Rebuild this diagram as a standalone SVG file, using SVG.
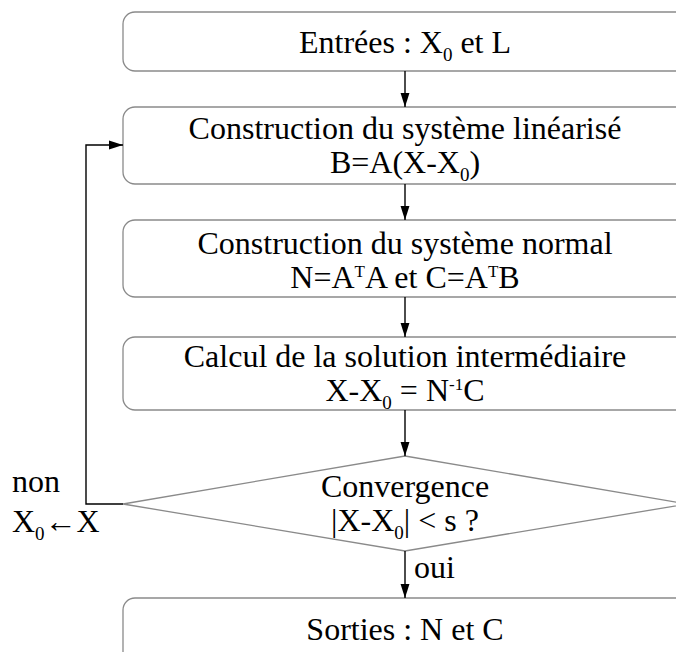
<svg xmlns="http://www.w3.org/2000/svg" width="676" height="652" viewBox="0 0 676 652">
<defs>
<marker id="ah" markerWidth="14" markerHeight="22" refX="22" refY="7" viewBox="0 0 22 14" markerUnits="userSpaceOnUse" orient="auto">
<path d="M0,0 L22,7 L0,14 Z" fill="#000"/>
</marker>
<style>
.box{fill:#fff;stroke:#8a8a8a;stroke-width:1.3}
.t{font-family:"Liberation Serif","Times New Roman",serif;font-size:32px;fill:#000;text-anchor:middle}
.l{font-family:"Liberation Serif","Times New Roman",serif;font-size:32px;fill:#000}
.sub{font-size:19px}
.sup{font-size:17px}
.c{fill:none;stroke:#000;stroke-width:1.4}
</style>
</defs>
<rect width="676" height="652" fill="#fff"/>
<g id="n1">
<rect class="box" x="123" y="12" width="600" height="59" rx="12"/>
<text class="t" x="405" y="53">Entrées : X<tspan class="sub" dy="8">0</tspan><tspan dy="-8"> et L</tspan></text>
</g>
<g id="n2">
<rect class="box" x="123" y="107" width="600" height="77" rx="12"/>
<text class="t" x="405" y="139">Construction du système linéarisé</text>
<text class="t" x="405" y="173">B=A(X-X<tspan class="sub" dy="8">0</tspan><tspan dy="-8">)</tspan></text>
</g>
<g id="n3">
<rect class="box" x="123" y="220" width="600" height="77" rx="12"/>
<text class="t" x="405" y="254">Construction du système normal</text>
<text class="t" x="405" y="288">N=A<tspan class="sup" dy="-11">T</tspan><tspan dy="11">A et C=A</tspan><tspan class="sup" dy="-11">T</tspan><tspan dy="11">B</tspan></text>
</g>
<g id="n4">
<rect class="box" x="123" y="337" width="600" height="73" rx="12"/>
<text class="t" x="405" y="367">Calcul de la solution intermédiaire</text>
<text class="t" x="405" y="401">X-X<tspan class="sub" dy="8">0</tspan><tspan dy="-8"> = N</tspan><tspan class="sup" dy="-11">-1</tspan><tspan dy="11">C</tspan></text>
</g>
<g id="n5">
<polygon class="box" points="405,456 687,504 405,551 123,504"/>
<text class="t" x="405" y="497">Convergence</text>
<text class="t" x="405" y="531">|X-X<tspan class="sub" dy="8">0</tspan><tspan dy="-8">| &lt; s ?</tspan></text>
</g>
<g id="n6">
<rect class="box" x="123" y="598" width="600" height="80" rx="12"/>
<text class="t" x="405" y="640">Sorties : N et C</text>
</g>
<g id="connectors">
<line class="c" x1="405" y1="71" x2="405" y2="107" marker-end="url(#ah)"/>
<line class="c" x1="405" y1="184" x2="405" y2="220" marker-end="url(#ah)"/>
<line class="c" x1="405" y1="297" x2="405" y2="337" marker-end="url(#ah)"/>
<line class="c" x1="405" y1="410" x2="405" y2="456" marker-end="url(#ah)"/>
<line class="c" x1="405" y1="551" x2="405" y2="598" marker-end="url(#ah)"/>
<polyline class="c" points="123,504 86,504 86,145 123,145" marker-end="url(#ah)"/>
<text class="l" x="414" y="578">oui</text>
<text class="l" x="12" y="492">non</text>
<text class="l" x="12" y="532">X<tspan class="sub" dy="8">0</tspan><tspan dy="-8">←X</tspan></text>
</g>
</svg>
